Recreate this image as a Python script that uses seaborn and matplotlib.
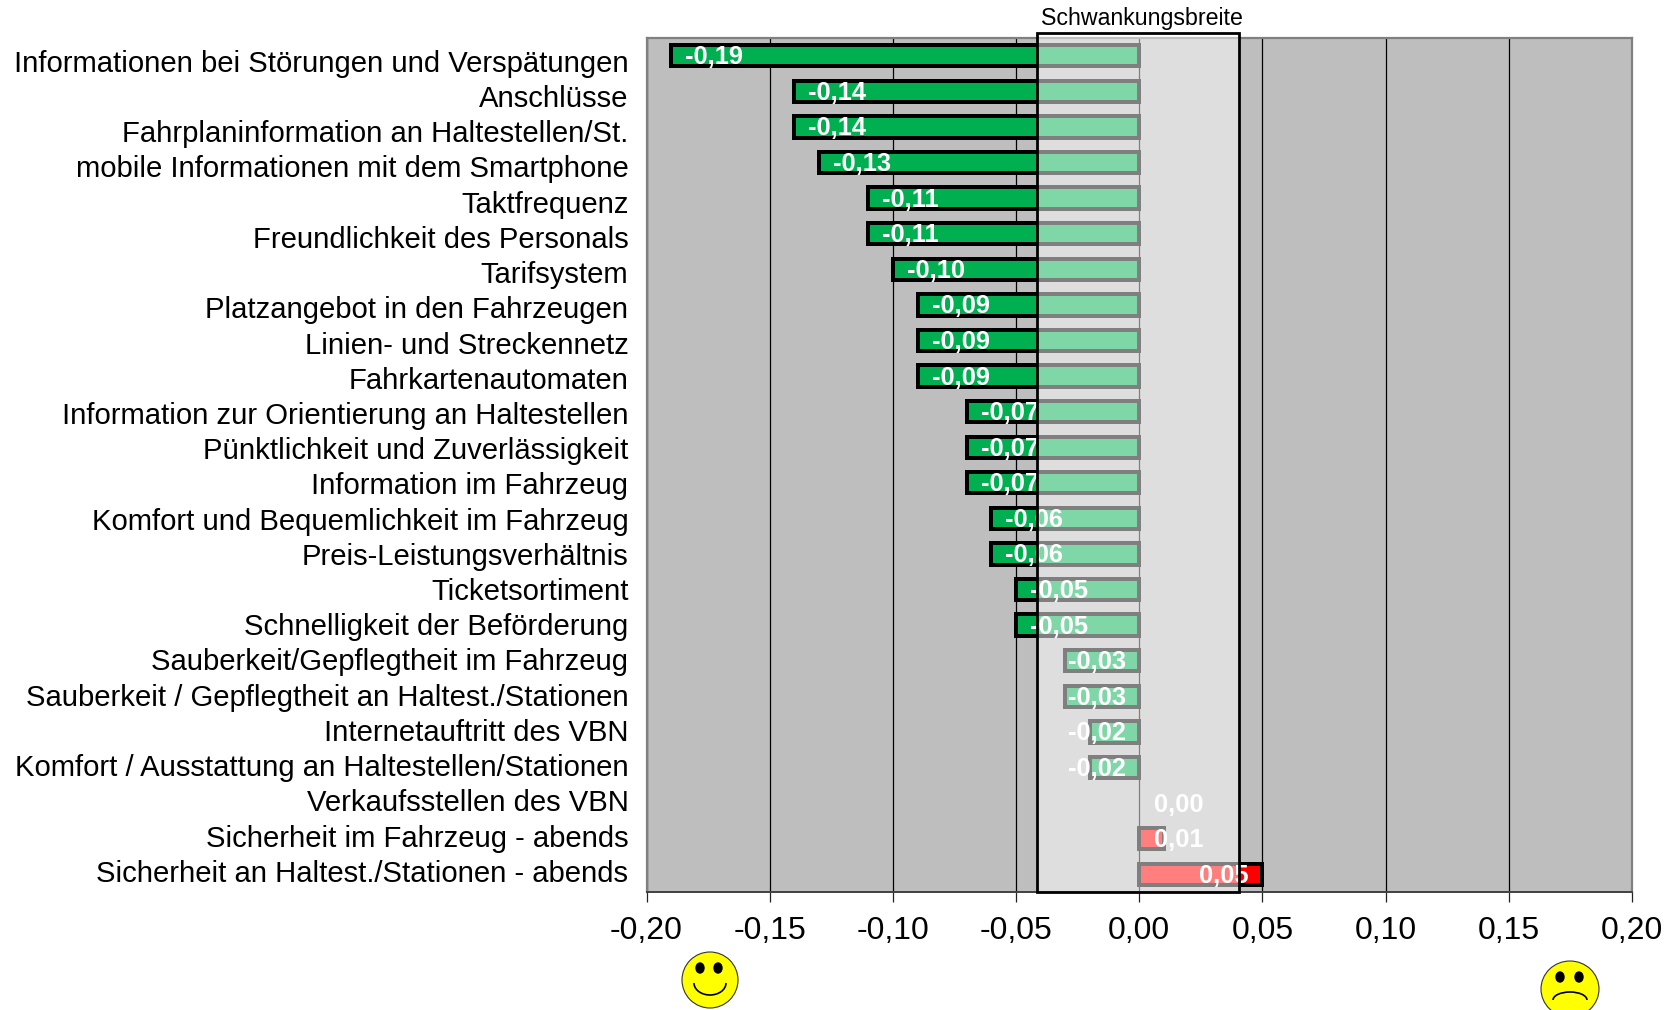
import matplotlib
matplotlib.use("Agg")
import matplotlib.pyplot as plt
import matplotlib.transforms as mtrans
from matplotlib.patches import Arc, Ellipse
import pandas as pd
import seaborn as sns

items = [
    "Informationen bei Störungen und Verspätungen", "Anschlüsse",
    "Fahrplaninformation an Haltestellen/St.",
    "mobile Informationen mit dem Smartphone", "Taktfrequenz",
    "Freundlichkeit des Personals", "Tarifsystem",
    "Platzangebot in den Fahrzeugen", "Linien- und Streckennetz",
    "Fahrkartenautomaten", "Information zur Orientierung an Haltestellen",
    "Pünktlichkeit und Zuverlässigkeit", "Information im Fahrzeug",
    "Komfort und Bequemlichkeit im Fahrzeug", "Preis-Leistungsverhältnis",
    "Ticketsortiment", "Schnelligkeit der Beförderung",
    "Sauberkeit/Gepflegtheit im Fahrzeug",
    "Sauberkeit / Gepflegtheit an Haltest./Stationen",
    "Internetauftritt des VBN",
    "Komfort / Ausstattung an Haltestellen/Stationen",
    "Verkaufsstellen des VBN", "Sicherheit im Fahrzeug - abends",
    "Sicherheit an Haltest./Stationen - abends",
]
values = [-0.19, -0.14, -0.14, -0.13, -0.11, -0.11, -0.10, -0.09, -0.09, -0.09,
          -0.07, -0.07, -0.07, -0.06, -0.06, -0.05, -0.05, -0.03, -0.03, -0.02,
          -0.02, 0.00, 0.01, 0.05]
x_ticks = [-0.20, -0.15, -0.10, -0.05, 0.00, 0.05, 0.10, 0.15, 0.20]
band_low = -0.0414
band_high = 0.0406
band_label = "Schwankungsbreite"

sns.set_theme(style="white", rc={"axes.facecolor": "#BEBEBE"})
plt.rcParams["font.family"] = ["Liberation Sans", "DejaVu Sans"]

df = pd.DataFrame({"item": items, "value": values})
df["side"] = ["good" if v <= 0 else "bad" for v in values]


def fmt(v):
    return f"{v:.2f}".replace(".", ",")


fig = plt.figure(figsize=(16.78, 10.10), dpi=100)
ax = fig.add_axes([646.5 / 1678, 1 - 892 / 1010, 985.5 / 1678, 854 / 1010])

sns.barplot(data=df, x="value", y="item", hue="side", dodge=False, legend=False,
            palette={"good": "#00B050", "bad": "#FF0000"}, saturation=1,
            width=0.6, edgecolor="black", linewidth=4.0 * 72 / 100, ax=ax,
            zorder=3)
for bar in ax.patches:
    if bar.get_width() == 0:
        bar.set_linewidth(0)

ax.set_xlim(-0.2, 0.2)
ax.set_ylim(len(items) - 0.5, -0.5)
ax.set_xticks(x_ticks)
ax.set_xticklabels([fmt(t) for t in x_ticks], fontsize=23)
ax.set_xlabel("")
ax.set_ylabel("")
ax.grid(axis="x", color="black", linewidth=0.9, zorder=1)
ax.set_axisbelow(True)
ax.tick_params(axis="x", length=7.2, width=0.9, color="#222222", pad=10, bottom=True)
ax.tick_params(axis="y", length=0, pad=13, labelsize=21.1)
# the row labels run a little tighter than the bars
n = len(items)
for i, lab in enumerate(ax.get_yticklabels()):
    dy = (-5 + 8.4 * i / (n - 1)) / 100
    lab.set_transform(lab.get_transform() + mtrans.ScaledTranslation(0, dy, fig.dpi_scale_trans))
    lab.set_color("black")
for lab in ax.get_xticklabels():
    lab.set_color("black")
for name in ["left", "right", "top"]:
    ax.spines[name].set_color("#808080")
    ax.spines[name].set_linewidth(1.6)
ax.spines["bottom"].set_color("#404040")
ax.spines["bottom"].set_linewidth(1.4)

# value labels sit inside the bar end, pushed back when the bar is too short
for i, v in enumerate(values):
    if v < 0:
        x, ha = min(v + 0.0057, -0.0291), "left"
    elif v <= 0.02:
        x, ha = 0.006, "left"
    else:
        x, ha = v - 0.0055, "right"
    ax.annotate(fmt(v), xy=(x, i), xytext=(0, -1.5), textcoords="offset pixels",
                color="white", fontsize=18.3, fontweight="bold", ha=ha, va="center",
                zorder=4)

# half transparent box over the bars
ax.axvspan(band_low, band_high, ymin=0, ymax=1.006, facecolor=(1, 1, 1, 0.5),
           edgecolor="black", linewidth=2.0, clip_on=False, zorder=5)
ax.annotate(band_label, xy=(0.0012, 1.0), xycoords=("data", "axes fraction"),
            xytext=(0, 19), textcoords="offset pixels", ha="center", va="center",
            fontsize=16.7, color="black")

# smileys, in figure pixels
face = fig.add_axes([0, 0, 1, 1], facecolor="none")
face.set_xlim(0, 1678)
face.set_ylim(1010, 0)
face.axis("off")
face.add_patch(Ellipse((710, 980), 56, 56, facecolor="#FFFF00", edgecolor="#333333", linewidth=0.8))
face.add_patch(Ellipse((700, 968), 8, 10, color="black"))
face.add_patch(Ellipse((718, 968), 8, 10, color="black"))
face.add_patch(Arc((710, 983), 32, 24, theta1=0, theta2=180, color="black", linewidth=1.2))
face.add_patch(Ellipse((1570, 989), 58, 56, facecolor="#FFFF00", edgecolor="#333333", linewidth=0.8))
face.add_patch(Ellipse((1560, 977), 8, 10, color="black"))
face.add_patch(Ellipse((1579, 977), 8, 10, color="black"))
face.add_patch(Arc((1570, 1000), 34, 16, theta1=180, theta2=360, color="black", linewidth=1.2))

fig.savefig("out.png", dpi=100, facecolor="white")
